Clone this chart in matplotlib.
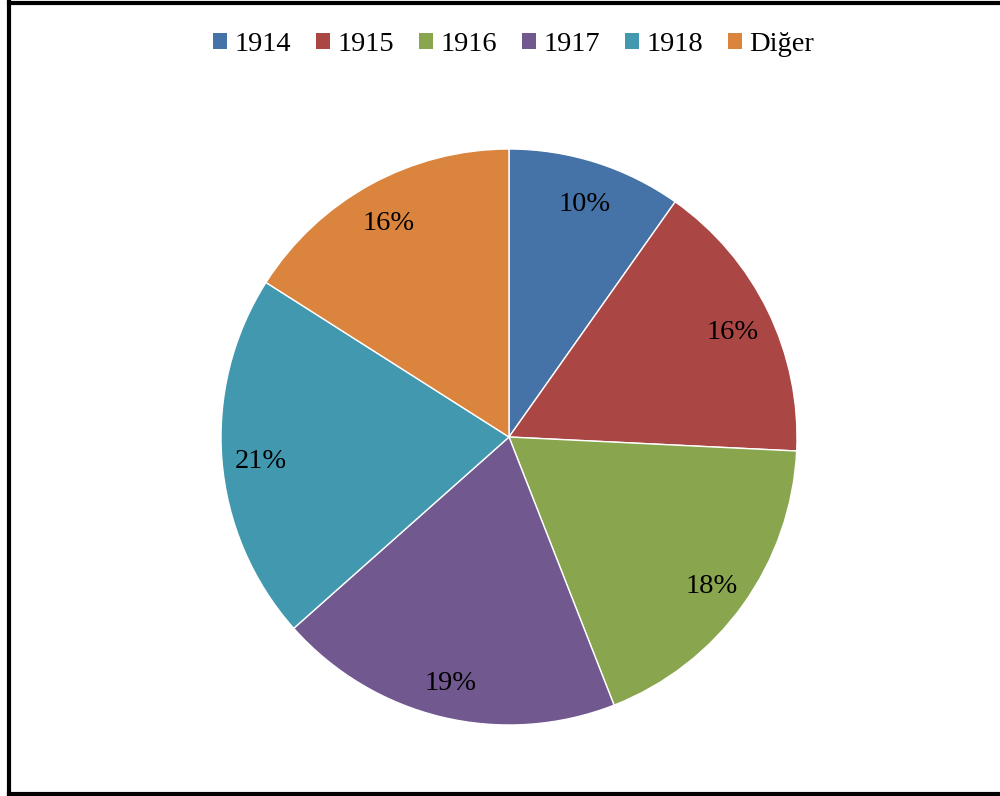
import matplotlib.pyplot as plt
from matplotlib.patches import Patch
from matplotlib.lines import Line2D

labels = ["1914", "1915", "1916", "1917", "1918", "Diğer"]
shares = [9.8, 16.0, 18.3, 19.4, 20.6, 16.0]
colors = ["#4572A7", "#AA4643", "#89A54E", "#71588F", "#4198AF", "#DB843D"]

plt.rcParams['font.family'] = ['Liberation Serif', 'DejaVu Serif']

fig = plt.figure(figsize=(10, 7.96), dpi=100)

# pie area: centre ~(509, 437) px, radius ~288 px
ax = fig.add_axes([0.221, 0.0892, 0.576, 0.7236])
wedges, texts, autotexts = ax.pie(
    shares, colors=colors, startangle=90, counterclock=False,
    autopct='%1.0f%%', pctdistance=0.865, radius=1.0,
    wedgeprops=dict(edgecolor='white', linewidth=1.0),
    textprops=dict(fontsize=20.5, color='black'))
# excel puts the labels a touch lower
for t in autotexts:
    x, y = t.get_position()
    t.set_position((x, y - 0.016))
ax.set_xlim(-1, 1)
ax.set_ylim(-1, 1)
ax.set_aspect('equal')

handles = [Patch(facecolor=c, edgecolor='none') for c in colors]
fig.legend(handles, labels, loc='center', bbox_to_anchor=(0.5135, 0.944),
           ncol=6, frameon=False, fontsize=20.5, handlelength=0.5,
           handleheight=0.5, handletextpad=0.25, columnspacing=0.88)

# chart frame (right side cut off in the original)
lw = 3.0
fig.add_artist(Line2D([0.009, 0.009], [0.003, 0.997], transform=fig.transFigure,
                      color='black', linewidth=lw))
fig.add_artist(Line2D([0.009, 1.0], [0.996, 0.996], transform=fig.transFigure,
                      color='black', linewidth=lw))
fig.add_artist(Line2D([0.009, 1.0], [0.0025, 0.0025], transform=fig.transFigure,
                      color='black', linewidth=lw))

fig.savefig("out.png", dpi=100)
